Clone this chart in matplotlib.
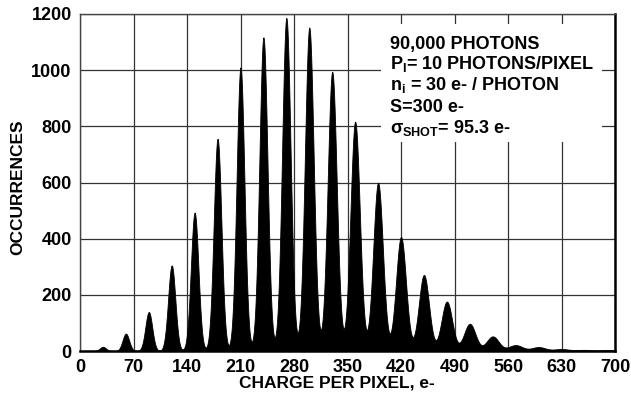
import matplotlib
matplotlib.use('Agg')
import matplotlib.pyplot as plt
import numpy as np
from matplotlib.patches import Rectangle

plt.rcParams['font.family'] = ['Liberation Sans', 'DejaVu Sans']
plt.rcParams['font.weight'] = 'bold'
plt.rcParams['mathtext.fontset'] = 'custom'
plt.rcParams['mathtext.rm'] = 'Liberation Sans:bold'
plt.rcParams['mathtext.it'] = 'Liberation Sans:bold'
plt.rcParams['mathtext.bf'] = 'Liberation Sans:bold'
plt.rcParams['mathtext.default'] = 'rm'

# Peak centres (e-), heights (occurrences) and widths (e-)
peak_centers = [30, 60, 90, 120, 150, 180, 210, 240, 270, 300, 330, 360,
                390, 420, 450, 480, 510, 540, 570, 600, 630, 660, 690]
peak_heights = [15, 62, 139, 305, 493, 756, 1010, 1117, 1186, 1152, 994, 817,
                599, 406, 271, 176, 97, 52, 21, 14, 7, 4, 3]
peak_widths = [4.0, 4.3, 4.5, 4.7, 4.9, 5.0, 5.1, 5.3, 5.5, 5.7, 5.9, 6.1,
               6.3, 6.5, 6.7, 7.0, 7.5, 8.0, 9.0, 9.0, 10.0, 10.0, 10.0]

x_ticks = [0, 70, 140, 210, 280, 350, 420, 490, 560, 630, 700]
y_ticks = [0, 200, 400, 600, 800, 1000, 1200]

info_lines = [
    '90,000 PHOTONS',
    'P$_{I}$= 10 PHOTONS/PIXEL',
    'n$_{i}$ = 30 e- / PHOTON',
    'S=300 e-',
    'σ$_{SHOT}$= 95.3 e-',
]


def main():
    fig = plt.figure(figsize=(6.31, 3.98), dpi=100)
    ax = fig.add_axes([80 / 631, 1 - 351 / 398, 535 / 631, 337 / 398])

    # histogram envelope: each peak drawn with a bell profile
    x = np.arange(0, 700.5, 0.5)
    counts = np.zeros_like(x)
    for c, h, w in zip(peak_centers, peak_heights, peak_widths):
        counts += h * np.exp(-0.5 * ((x - c) / w) ** 2)
    ax.fill_between(x, 0, counts, color='black', linewidth=0.6,
                    edgecolor='black', zorder=3)

    ax.set_xlim(0, 700)
    ax.set_ylim(0, 1200)
    ax.set_xticks(x_ticks)
    ax.set_yticks(y_ticks)
    ax.tick_params(length=0, labelsize=13, pad=6)
    for lab in ax.get_xticklabels() + ax.get_yticklabels():
        lab.set_fontweight('bold')
    ax.grid(True, color='#333333', linewidth=0.9, zorder=1)
    ax.set_axisbelow(True)

    for side in ['left', 'top']:
        ax.spines[side].set_color('#444444')
        ax.spines[side].set_linewidth(1.0)
    for side in ['bottom', 'right']:
        ax.spines[side].set_color('black')
        ax.spines[side].set_linewidth(1.8)

    # white panel behind annotation
    ax.add_patch(Rectangle((0.5626, 0.619), 0.413, 0.351, transform=ax.transAxes,
                           facecolor='white', edgecolor='none', zorder=2))
    ys = [44, 64, 85, 107, 128]
    for txt, yp in zip(info_lines, ys):
        fig.text(390 / 631, 1 - yp / 398, txt, fontsize=13, fontweight='bold',
                 ha='left', va='center', zorder=5)

    fig.text(337 / 631, 1 - 383 / 398, 'CHARGE PER PIXEL, e-', fontsize=12.5,
             fontweight='bold', ha='center', va='center')
    fig.text(18 / 631, 1 - 187 / 398, 'OCCURRENCES', fontsize=12.5,
             fontweight='bold', ha='center', va='center', rotation=90)

    fig.savefig('out.png', dpi=100)
    plt.close(fig)


if __name__ == "__main__":
    main()
